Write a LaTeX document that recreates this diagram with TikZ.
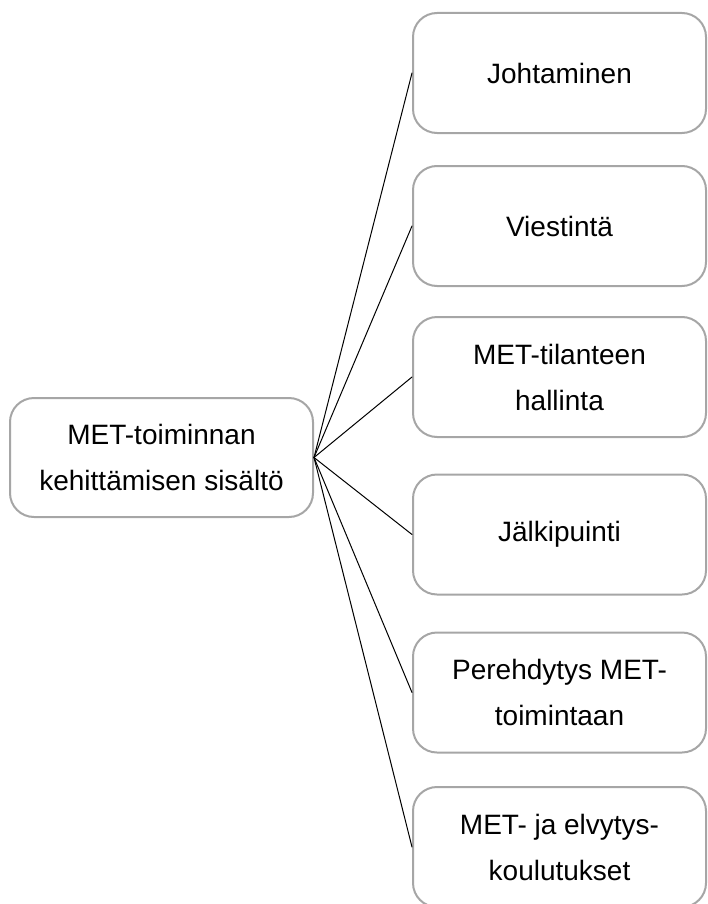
\documentclass[tikz,border=0pt]{standalone}
\usepackage{fontspec}
\setmainfont{Liberation Sans}
\tikzset{
  every picture/.style={line join=round, line cap=round},
  topic/.style={draw=black!35, line width=1pt, rounded corners=12pt, fill=white,
    align=center, font=\fontsize{14}{23}\selectfont},
  rootbox/.style={topic, minimum width=151.5pt, minimum height=59.5pt},
  subbox/.style={topic, minimum width=146.5pt, minimum height=60pt},
  link/.style={line width=0.5pt},
}
\begin{document}
\begin{tikzpicture}[x=0.5pt,y=-0.5pt]
\useasboundingbox (0,0) rectangle (707,904);
\node[rootbox](met) at (161.5,457.5){MET-toiminnan\\kehittämisen sisältö};
\foreach \y/\name/\txt in {73/johto/Johtaminen,
    226/viesti/Viestintä,
    377/tilanne/{MET-tilanteen\\hallinta},
    534.5/jalki/Jälkipuinti,
    692.5/pereh/{Perehdytys MET-\\toimintaan},
    847/koulu/{MET- ja elvytys-\\koulutukset}}
  {\node[subbox](\name) at (559.5,\y){\txt};
   \draw[link](met.east)--(\name.west);}
\end{tikzpicture}
\end{document}
